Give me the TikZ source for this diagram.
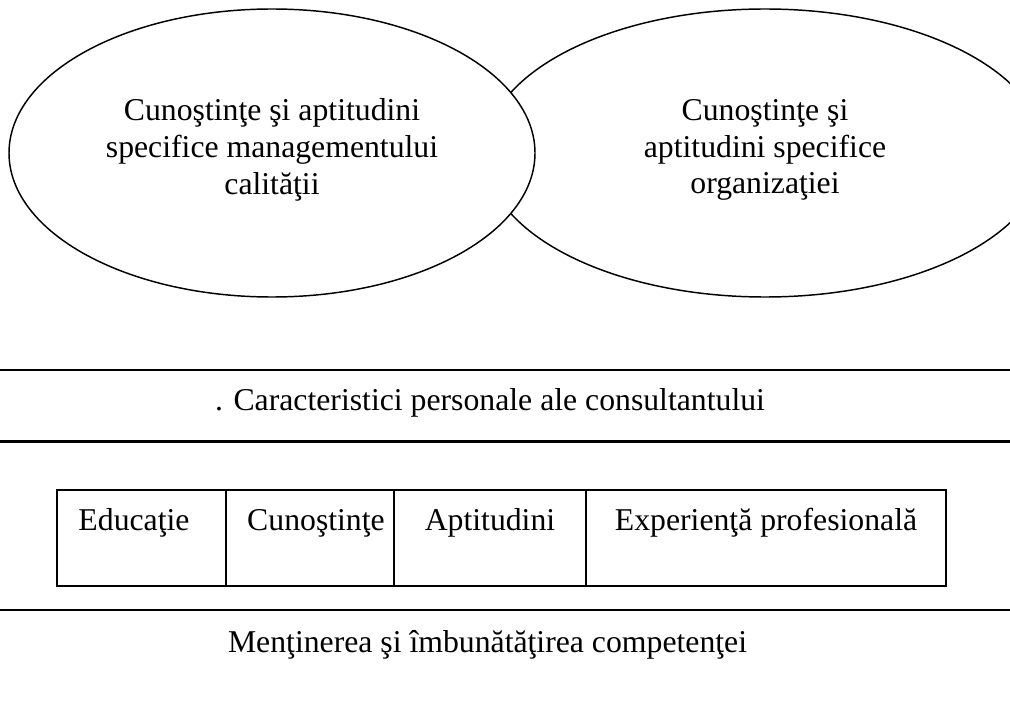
\documentclass[tikz,border=0pt]{standalone}
\usepackage{fontspec}
\setmainfont{Liberation Serif}

\tikzset{every picture/.style={line width=0.75pt}}
\tikzset{
  txt/.style={inner sep=0pt, font=\fontsize{23.8}{27.5}\selectfont},
  bubble/.style={line width=1.1pt},
  rule/.style={line width=1.6pt},
  cell/.style={line width=1.3pt}
}

\begin{document}
\begin{tikzpicture}[x=0.75pt,y=0.75pt,yscale=-1,xscale=1]
\useasboundingbox (0,0) rectangle (1010,702);
\clip (0,0) rectangle (1010,702);

%Shape: Ellipse right
\draw [bubble, fill=white] (765,153) ellipse (280 and 144);
%Shape: Ellipse left
\draw [bubble, fill=white] (272,153) ellipse (263 and 144);

%Straight Lines
\draw [rule] (0,370) -- (1010,370) ;
\draw [rule] (0,441.5) -- (1010,441.5) ;
\draw [rule] (0,610) -- (1010,610) ;

%Shape: Rectangle
\draw [cell] (57,490) rectangle (946,586) ;
\foreach \x in {226,394,586}
  \draw [cell] (\x,490) -- (\x,586) ;

% Text Node
\node [txt, align=center] (mgmt) at (272,150) {Cunoştinţe şi aptitudini\\specifice managementului\\calităţii};
% Text Node
\node [txt, align=center] (org) at (765,150) {Cunoştinţe şi\\aptitudini specifice\\organizaţiei};
% Text Node
\node [txt, anchor=base] (pers) at (490,410) {. Caracteristici personale ale consultantului};
% Text Node
\node [txt, anchor=base] (educ) at (134,530) {Educaţie};
% Text Node
\node [txt, anchor=base] (cun) at (316,530) {Cunoştinţe};
% Text Node
\node [txt, anchor=base] (apt) at (490,530) {Aptitudini};
% Text Node
\node [txt, anchor=base] (exp) at (766,530) {Experienţă profesională};
% Text Node
\node [txt, anchor=base] (mentin) at (487.5,652) {Menţinerea şi îmbunătăţirea competenţei};

\end{tikzpicture}
\end{document}
